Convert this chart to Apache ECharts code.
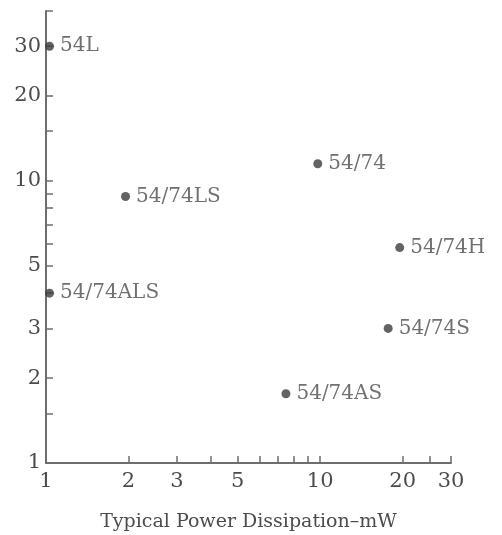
<!DOCTYPE html>
<html>
<head>
<meta charset="utf-8">
<script src="https://cdn.jsdelivr.net/npm/echarts@6/dist/echarts.min.js"></script>
<style>html,body{margin:0;padding:0;background:#fff}#c{width:502px;height:535px}</style>
</head>
<body>
<div id="c"></div>
<script>
// Data
const families = ['54L', '54/74LS', '54/74', '54/74H', '54/74ALS', '54/74S', '54/74AS'];
const powerMW = [1.03, 1.95, 9.8, 19.5, 1.03, 17.7, 7.5];
const delayNs = [30, 8.8, 11.5, 5.8, 4.0, 3.0, 1.76];

const xTickLabels = [1, 2, 3, 5, 10, 20, 30];
const xTicks = [1, 2, 3, 4, 5, 6, 7, 8, 9, 10, 20, 25, 30];
const yTickLabels = [1, 2, 3, 5, 10, 20, 30];
const yTicks = [1, 1.5, 2, 3, 4, 5, 6, 7, 8, 9, 10, 15, 20, 30, 40];

const FONT = 'DejaVu Serif';
const TXT = '#4c4c4c';
const AX = '#6e6e6e';

const chart = echarts.init(document.getElementById('c'), null, {renderer: 'canvas'});
chart.setOption({
  animation: false,
  backgroundColor: '#ffffff',
  grid: {left: 46, right: 51, top: 11, bottom: 72, containLabel: false, outerBoundsMode: 'none'},
  xAxis: {
    type: 'log', logBase: 10, min: 1, max: 30,
    name: 'Typical Power Dissipation\u2013mW',
    nameLocation: 'middle', nameGap: 50,
    nameTextStyle: {fontFamily: FONT, fontSize: 19, color: TXT},
    axisLine: {show: true, lineStyle: {color: AX, width: 2}},
    axisTick: {show: true, inside: true, length: 7, customValues: xTicks, lineStyle: {color: AX, width: 1.5}},
    axisLabel: {customValues: xTickLabels, margin: 8, fontFamily: FONT, fontSize: 21, color: TXT,
      formatter: v => String(Math.round(v))},
    splitLine: {show: false},
    minorTick: {show: false}
  },
  yAxis: {
    type: 'log', logBase: 10, min: 1, max: 40,
    axisLine: {show: true, lineStyle: {color: AX, width: 2}},
    axisTick: {show: true, inside: true, length: 7, customValues: yTicks, lineStyle: {color: AX, width: 1.5}},
    axisLabel: {customValues: yTickLabels, margin: 5, fontFamily: FONT, fontSize: 21, color: TXT,
      formatter: v => String(Math.round(v))},
    splitLine: {show: false},
    minorTick: {show: false}
  },
  series: [{
    type: 'scatter',
    symbol: 'circle',
    symbolSize: 9,
    itemStyle: {color: '#3c3c3c'},
    label: {show: true, position: 'right', distance: 6, formatter: '{b}',
      fontFamily: FONT, fontSize: 20, color: TXT},
    data: families.map((n, i) => ({name: n, value: [powerMW[i], delayNs[i]]}))
  }]
});
</script>
</body>
</html>
